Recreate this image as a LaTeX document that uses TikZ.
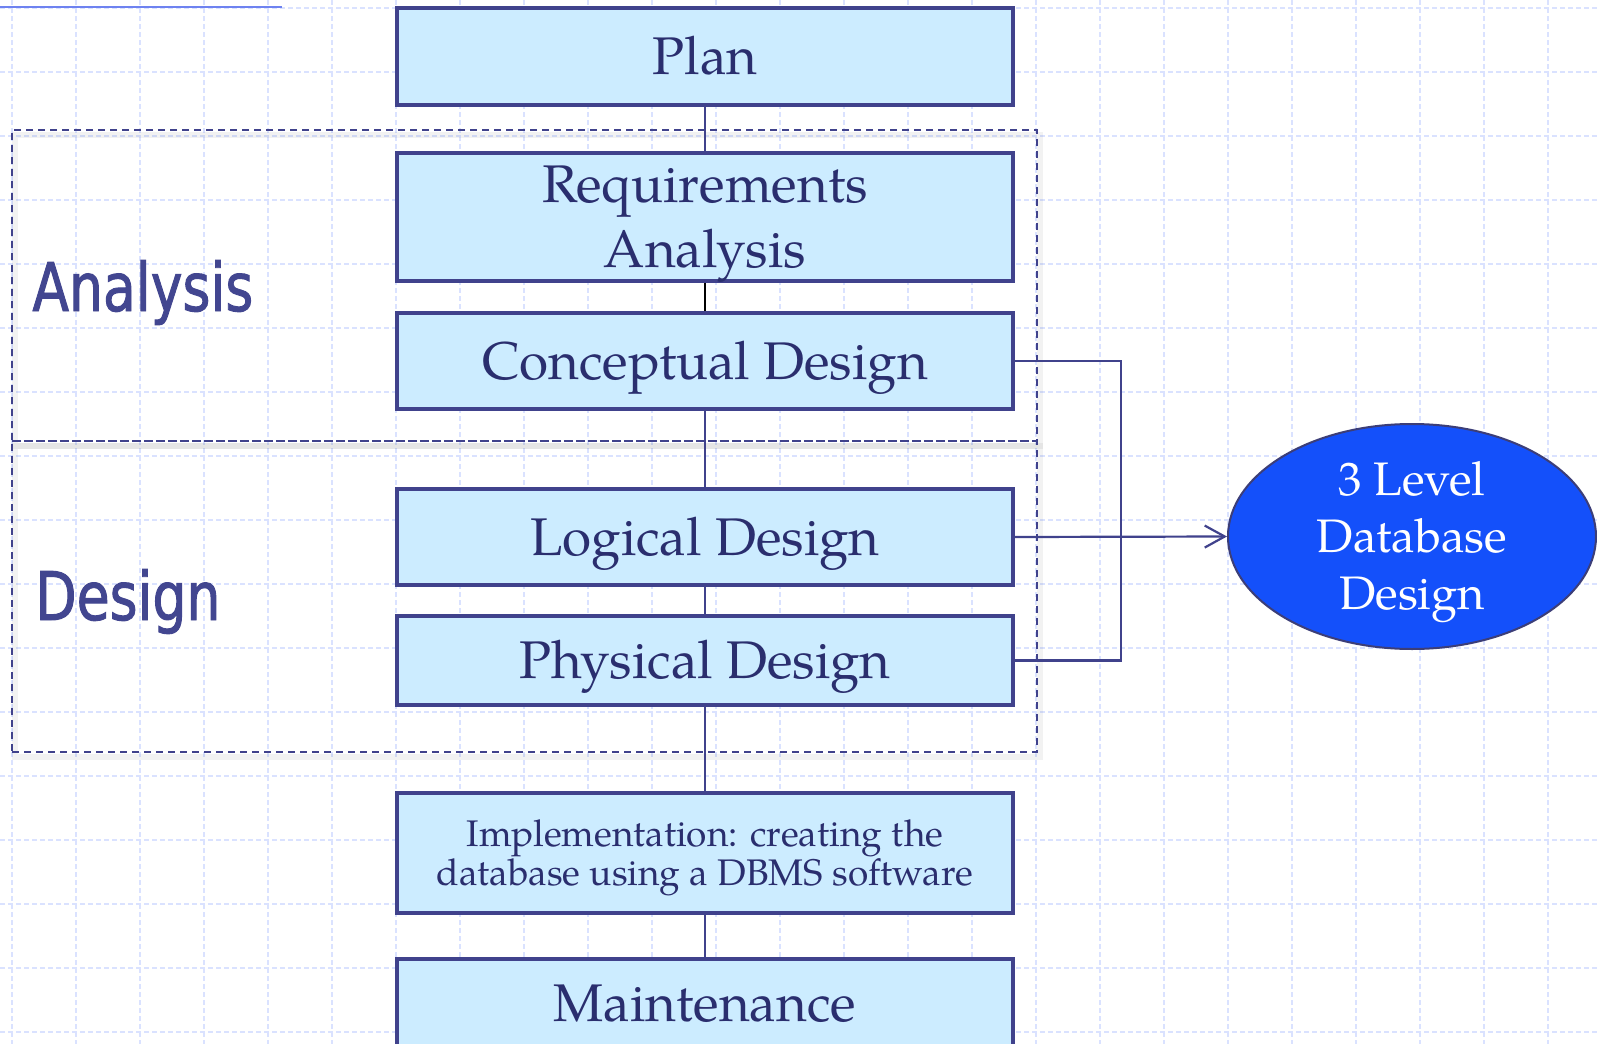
\documentclass[tikz,border=0pt]{standalone}
\usepackage{fontspec}
\usetikzlibrary{arrows.meta,shapes.geometric}
\newfontfamily\labelfont[FakeStretch=0.80,FakeBold=1.4]{DejaVu Sans}
\newfontfamily\palfont{TeX Gyre Pagella}
\definecolor{boxfill}{RGB}{204,236,255}
\definecolor{boxline}{RGB}{64,66,140}
\definecolor{boxtext}{RGB}{42,46,110}
\definecolor{lblcol}{RGB}{66,70,144}
\definecolor{ellfill}{RGB}{20,80,250}
\definecolor{ellline}{RGB}{60,62,120}
\definecolor{gridcol}{RGB}{218,226,255}
\definecolor{toplinecol}{RGB}{110,130,240}
\tikzset{
  gridline/.style={draw=gridcol, line width=0.9pt, dash pattern=on 2.5pt off 1.5pt},
  stagebox/.style={draw=boxline, line width=1.6pt, fill=boxfill, minimum width=308pt,
    inner sep=0pt, text=boxtext, align=center,
    font=\palfont\fontsize{26.5}{32.5}\selectfont, text height=18.3pt, text depth=0pt},
  smallbox/.style={stagebox, font=\palfont\fontsize{18.5}{19.5}\selectfont,
    text height=32.3pt, text depth=0pt},
  conn/.style={draw=boxline, line width=1.1pt},
  dashbox/.style={draw=boxline, line width=1pt, dash pattern=on 3.5pt off 2.5pt,
    minimum width=512.5pt, minimum height=155.5pt, inner sep=0pt},
  dashshadow/.style={draw=black, opacity=0.05, line width=3pt,
    minimum width=512.5pt, minimum height=155.5pt, inner sep=0pt},
  phaselabel/.style={inner sep=0pt, anchor=base west, text=lblcol,
    font=\labelfont\fontsize{33.5}{40}\selectfont},
  target/.style={ellipse, draw=ellline, line width=1pt, fill=ellfill,
    minimum width=184pt, minimum height=112.5pt, inner sep=0pt, text=white,
    align=center, font=\palfont\fontsize{23.5}{28.5}\selectfont,
    text height=73.3pt, text depth=0pt}
}
\begin{document}
\begin{tikzpicture}[x=0.5pt, y=-0.5pt]
\useasboundingbox (0,0) rectangle (1597,1044);
\clip (0,0) rectangle (1597,1044);
\fill[white] (0,0) rectangle (1597,1044);
% grid
\foreach \i in {0,...,24} \draw[gridline] ({12+64*\i},0) -- ({12+64*\i},1044);
\foreach \j in {0,...,16} \draw[gridline] (0,{8+64*\j}) -- (1597,{8+64*\j});
\draw[draw=toplinecol, line width=1pt] (0,7) -- (282,7);
% regions
\node[dashshadow] (anashadow) at (527,290) {};
\node[dashshadow] (desshadow) at (527,601) {};
\node[dashbox] (anaregion) at (524.5,285.5) {};
\node[dashbox] (desregion) at (524.5,596.5) {};
\node[phaselabel] (ana) at (32,311) {Analysis};
\node[phaselabel] (des) at (35,620) {Design};
% boxes
\node[stagebox, minimum height=48.5pt] (plan) at (705,56.5) {Plan};
\node[stagebox, minimum height=64pt, text height=50.8pt] (req) at (705,217) {Requirements\\Analysis};
\node[stagebox, minimum height=48pt] (conc) at (705,361) {Conceptual Design};
\node[stagebox, minimum height=48pt] (logi) at (705,537) {Logical Design};
\node[stagebox, minimum height=44.5pt] (phys) at (705,660.5) {Physical Design};
\node[smallbox, minimum height=60pt] (impl) at (705,853) {Implementation: creating the\\database using a DBMS software};
\node[stagebox, minimum height=44.5pt] (maint) at (705,1003.5) {Maintenance};
\node[target] (ell) at (1412,536.5) {3 Level\\Database\\Design};
% connectors
\draw[conn] (plan.south) -- (req.north);
\draw[draw=black, line width=0.6pt] (req.south) -- (conc.north);
\draw[conn] (conc.south) -- (logi.north);
\draw[conn] (logi.south) -- (phys.north);
\draw[conn] (phys.south) -- (impl.north);
\draw[conn] (impl.south) -- (maint.north);
\coordinate (bx) at (1121,0);
\draw[conn] (conc.east) -- (conc.east -| bx) -- (phys.east -| bx) -- (phys.east);
\draw[conn, -{Straight Barb[length=10pt,width=11pt]}] (logi.east) -- (ell.west);
\end{tikzpicture}
\end{document}
